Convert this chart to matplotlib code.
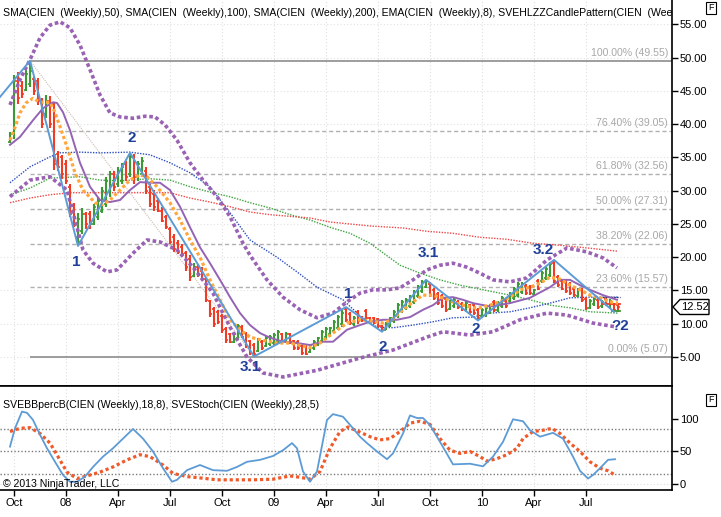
import numpy as np
import pandas as pd
import matplotlib
matplotlib.use("Agg")
import matplotlib.pyplot as plt
import matplotlib.transforms as mtransforms
from matplotlib.patches import Polygon

plt.rcParams['font.family'] = ['Liberation Sans', 'DejaVu Sans']

# ---------------- data ----------------
first_bar_date = "2007-09-28"
bar_open = [37.4, 38.5, 46.5, 45.8, 45.2, 46.0, 46.8, 46.5, 43.5, 41.5,
            43.5, 43.0, 35.5, 35.0, 34.0, 30.5, 27.8, 23.0, 24.0, 26.5,
            26.5, 25.0, 26.0, 27.0, 28.0, 30.0, 32.5, 31.0, 31.5, 34.0,
            32.5, 35.0, 32.0, 32.5, 33.0, 30.5, 29.5, 28.5, 27.0, 26.0,
            24.2, 23.0, 22.2, 21.6, 20.6, 19.8, 17.2, 18.6, 18.0, 16.8,
            13.4, 12.2, 11.7, 11.2, 9.2, 8.4, 7.3, 7.8, 9.5, 8.6,
            7.4, 6.8, 5.9, 7.3, 6.6, 6.9, 7.1, 7.4, 8.4, 7.5,
            8.4, 7.4, 7.3, 6.6, 6.6, 5.8, 6.4, 6.9, 7.4, 8.0,
            8.4, 8.9, 9.3, 9.9, 12.2, 11.5, 9.9, 11.7, 11.0, 11.9,
            10.8, 10.8, 10.7, 9.6, 9.1, 9.7, 10.4, 11.2, 11.9, 12.3,
            12.7, 13.3, 14.2, 14.9, 15.6, 16.0, 15.1, 14.5, 14.2, 13.7,
            12.2, 12.6, 13.2, 12.9, 12.0, 12.8, 12.8, 12.1, 11.1, 11.3,
            11.8, 13.2, 12.0, 12.7, 13.4, 13.4, 13.8, 14.3, 14.8, 15.7,
            15.5, 14.5, 16.5, 16.4, 16.9, 17.3, 19.2, 17.0, 16.5, 16.5,
            16.0, 15.2, 14.2, 15.1, 13.7, 12.4, 12.9, 13.5, 12.6, 13.7,
            12.5, 12.9, 12.8]
bar_high = [38.9, 47.4, 47.8, 46.5, 48.2, 49.55, 47.1, 47.0, 44.0, 44.4,
            44.2, 43.3, 36.0, 35.4, 34.6, 31.0, 28.2, 26.6, 27.4, 26.8,
            27.0, 28.0, 29.0, 30.6, 32.0, 33.0, 33.0, 33.5, 34.2, 34.5,
            35.7, 35.5, 34.5, 35.0, 33.5, 31.0, 30.1, 28.9, 27.5, 26.4,
            24.5, 23.5, 22.6, 22.0, 21.0, 20.3, 19.1, 19.0, 18.5, 17.0,
            13.6, 12.5, 12.0, 11.5, 9.5, 8.6, 8.8, 10.0, 9.8, 8.8,
            7.6, 7.1, 7.9, 7.5, 8.2, 8.3, 8.6, 9.1, 8.6, 8.8,
            8.6, 7.6, 7.6, 6.8, 6.8, 7.0, 7.6, 8.0, 9.0, 9.5,
            9.5, 10.6, 11.3, 12.0, 12.5, 11.8, 11.1, 12.0, 11.2, 12.2,
            11.0, 11.0, 10.9, 9.8, 10.3, 11.0, 12.0, 13.1, 13.6, 13.8,
            14.3, 15.0, 15.8, 16.6, 16.6, 16.3, 15.4, 14.8, 14.5, 14.0,
            13.5, 13.8, 13.5, 13.2, 13.4, 13.0, 13.1, 12.4, 12.4, 12.6,
            12.9, 13.5, 13.4, 14.2, 13.7, 14.8, 15.5, 16.3, 16.3, 16.0,
            15.8, 15.3, 16.8, 18.0, 18.5, 19.3, 19.6, 17.3, 16.8, 16.8,
            16.3, 15.5, 15.4, 15.4, 14.0, 13.7, 14.0, 13.8, 13.6, 14.0,
            13.7, 13.1, 13.0]
bar_low = [37.2, 37.8, 43.0, 44.0, 45.0, 45.6, 44.4, 42.9, 39.4, 40.9,
           39.5, 33.1, 33.0, 31.8, 31.0, 26.0, 24.5, 21.7, 23.5, 24.2,
           24.3, 24.8, 25.6, 26.6, 27.5, 29.0, 30.0, 30.5, 31.0, 31.5,
           32.0, 31.0, 31.5, 32.0, 29.5, 27.5, 27.0, 26.8, 25.3, 24.3,
           22.0, 20.8, 20.5, 20.0, 18.0, 16.5, 17.0, 17.0, 16.5, 13.3,
           11.0, 9.5, 10.0, 8.6, 7.1, 7.1, 7.1, 7.5, 7.8, 6.4,
           5.3, 5.07, 5.8, 6.0, 6.5, 6.6, 6.8, 7.1, 7.2, 7.3,
           7.0, 6.1, 6.0, 5.3, 5.3, 5.6, 6.1, 6.6, 7.1, 7.6,
           8.0, 8.6, 9.0, 9.5, 10.3, 9.8, 9.6, 10.0, 10.3, 10.5,
           10.2, 9.9, 9.4, 8.8, 9.0, 9.5, 10.1, 10.9, 11.6, 12.0,
           12.4, 13.0, 13.9, 14.6, 15.4, 14.0, 13.6, 12.8, 12.4, 11.8,
           12.0, 12.3, 12.2, 11.9, 11.8, 11.5, 11.3, 10.5, 10.9, 11.0,
           11.5, 11.7, 11.8, 12.4, 12.4, 13.1, 13.5, 14.0, 14.5, 14.3,
           14.3, 14.3, 15.0, 16.1, 16.6, 17.0, 16.1, 15.5, 15.0, 14.6,
           14.3, 14.0, 14.0, 13.3, 12.1, 12.2, 12.6, 12.2, 12.4, 12.7,
           12.3, 11.8, 11.8]
bar_close = [38.6, 46.5, 44.0, 44.5, 47.5, 48.0, 45.0, 43.5, 40.0, 43.5,
             40.0, 34.0, 33.5, 32.5, 31.5, 26.5, 25.0, 25.8, 26.5, 25.0,
             25.0, 27.5, 28.5, 30.0, 31.5, 32.5, 30.5, 33.0, 33.5, 32.0,
             35.0, 32.0, 34.0, 34.5, 30.0, 28.0, 27.5, 27.0, 25.5, 24.6,
             22.3, 21.2, 20.8, 20.5, 18.5, 17.0, 18.6, 17.3, 16.8, 13.6,
             11.4, 10.0, 10.3, 9.0, 7.5, 7.3, 8.5, 9.6, 8.0, 6.7,
             5.6, 5.4, 7.5, 6.3, 7.9, 8.0, 8.3, 8.8, 7.4, 8.5,
             7.2, 6.4, 6.3, 5.6, 5.5, 6.8, 7.3, 7.8, 8.7, 9.2,
             9.3, 10.2, 11.0, 11.6, 10.6, 10.1, 10.8, 10.4, 10.5, 10.8,
             10.4, 10.1, 9.7, 9.0, 10.1, 10.8, 11.7, 12.8, 13.3, 13.5,
             14.0, 14.7, 15.5, 16.3, 16.4, 14.3, 13.9, 13.1, 12.7, 12.1,
             13.2, 13.5, 12.5, 12.2, 13.1, 11.8, 11.6, 10.9, 12.1, 12.3,
             12.6, 12.0, 13.1, 13.9, 12.7, 14.5, 15.2, 16.0, 16.0, 14.6,
             14.6, 15.0, 15.3, 17.7, 18.2, 19.0, 16.5, 15.8, 15.3, 14.9,
             14.6, 14.3, 15.1, 13.6, 12.4, 13.4, 13.7, 12.5, 13.3, 13.0,
             13.4, 12.1, 12.52]

ema_w = [0, 1, 2.5, 4, 5.75, 7.5, 10, 11.25, 14.25, 16.25, 18.25, 21.25, 23, 25, 27.5, 30,
         32.5, 34.25, 36.75, 40, 42.5, 45, 47.5, 50, 52.5, 55, 57.5, 60, 62.5, 66.75, 70, 75,
         77.5, 80.75, 84.25, 87.5, 90.75, 93.25, 95.5, 98.25, 100.75, 103.25, 105.75, 108.25,
         110.75, 113.25, 115.75, 117.5, 120, 122.5, 125, 127.5, 130, 132.5, 135, 137.5, 140,
         142.5, 145, 147.5, 150, 152]
ema_v = [37.6, 39.1, 41.7, 43.2, 43.9, 43.3, 43.3, 41.8, 36.6, 32.7, 30.1, 28.2, 27.9, 28.6,
         30.1, 31.6, 32.4, 32.1, 30.6, 28.2, 25.6, 22.6, 20.0, 16.6, 13.6, 10.6, 9.1, 8.0, 7.6,
         7.1, 7.1, 6.4, 7.1, 8.6, 10.1, 10.6, 10.4, 10.1, 10.6, 12.1, 13.3, 14.3, 14.3, 13.9,
         13.3, 12.8, 12.4, 12.4, 12.8, 13.3, 14.0, 15.1, 15.5, 16.1, 17.0, 16.7, 15.8, 15.1,
         14.3, 13.9, 13.3, 13.1]

mid_w = [0, 2.5, 5.75, 8.25, 10.75, 11.75, 13.25, 15, 17.5, 20, 22.5, 25, 27.5, 30, 32.5, 35,
         37.5, 40, 42.5, 45, 47.5, 50, 52.5, 55, 57.5, 60, 62.5, 65, 68.25, 71.75, 75, 78.25,
         80.75, 84.25, 87.5, 90, 93.25, 96.75, 100, 103.25, 105.75, 108.25, 110.75, 113.25,
         115.75, 120, 125, 130, 135, 137.5, 140, 142.5, 145, 148.25, 151.75]
mid_v = [36.9, 38.1, 40.6, 42.4, 43.3, 43.2, 41.8, 39.1, 34.2, 30.6, 28.6, 28.3, 28.6, 30.1,
         31.3, 31.2, 31.2, 30.1, 27.6, 24.5, 21.5, 19.1, 16.6, 14.0, 11.6, 9.8, 8.6, 7.9, 7.3,
         7.1, 6.8, 7.3, 7.3, 9.1, 9.8, 10.3, 10.6, 10.6, 11.0, 12.1, 12.8, 13.9, 14.0, 13.6,
         13.1, 12.6, 13.1, 13.9, 15.5, 16.6, 16.6, 15.8, 15.1, 14.3, 13.6]

upper_w = [0, 2.5, 5, 7.5, 10, 12.5, 15, 17.5, 20, 22.5, 25, 27.5, 30.75, 33.75, 36.25, 38.75,
           41.75, 45, 48.25, 51.75, 55, 58.25, 60, 64.25, 68.25, 72.5, 76.75, 80.75, 84.25,
           87.5, 90.75, 94.25, 97.5, 100.75, 104.25, 107.5, 110.75, 114.25, 117.5, 120.75,
           125, 129.25, 134.25, 139.25, 144.25, 148.25, 151.75]
upper_v = [42.9, 46.7, 49.7, 53.0, 54.9, 55.4, 54.5, 51.9, 48.2, 44.4, 41.7, 41.1, 40.9, 41.2,
           41.1, 39.9, 37.6, 34.2, 31.6, 29.1, 26.1, 22.1, 20.3, 16.6, 14.0, 12.1, 10.9, 11.6,
           13.3, 14.6, 15.1, 15.1, 15.4, 16.6, 18.1, 18.8, 19.1, 18.5, 17.6, 16.6, 16.3, 16.9,
           19.6, 21.4, 20.8, 19.9, 18.4]

lower_w = [0, 5, 10, 14.25, 16.75, 18.25, 20.75, 24.25, 26.75, 30.75, 34.25, 37.5, 41.75,
           45.75, 50.75, 55, 59.25, 63.25, 68.25, 76.75, 87.5, 95.75, 104.25, 108.25, 115,
           120.75, 127.5, 134.25, 139.25, 145.75, 151.75]
lower_v = [29.1, 31.6, 32.1, 30.1, 24.5, 21.1, 19.1, 17.8, 18.1, 20.6, 22.6, 22.3, 21.1, 18.5,
           14.6, 9.5, 5.0, 2.6, 2.0, 3.0, 4.85, 6.05, 8.0, 8.8, 8.3, 8.8, 10.6, 11.6, 11.3,
           10.1, 9.5]

sma100_w = [0, 5, 10, 12.5, 17.5, 22.5, 30, 35, 40, 45, 50, 55, 60, 66.75, 71.75, 76.75, 83.25,
            87.5, 91.75, 95.75, 100.75, 105.75, 110.75, 115.75, 120, 125, 130, 135, 140, 145, 152]
sma100_v = [31.2, 33.6, 35.1, 35.7, 35.8, 35.7, 35.8, 35.4, 34.2, 32.7, 30.6, 26.7, 22.6, 20.0,
            17.8, 15.5, 13.6, 11.2, 9.5, 9.4, 9.8, 10.3, 10.9, 11.0, 11.6, 11.8, 12.4, 13.1,
            13.9, 14.0, 14.0]

sma50_w = [0, 5, 10, 17.5, 22.5, 27.5, 35, 40, 45, 50, 55, 60, 65, 70, 75, 80, 85, 90, 97.5,
           102.5, 107.5, 112.5, 117.5, 125, 130, 135, 140, 145, 152]
sma50_v = [29.4, 30.4, 31.9, 32.1, 31.6, 31.5, 31.8, 31.6, 30.6, 29.8, 29.1, 28.2, 27.4, 26.4,
           25.6, 24.5, 23.6, 22.1, 18.8, 17.6, 16.6, 15.8, 15.2, 14.3, 13.6, 12.8, 12.4, 11.8,
           11.6]

sma200_w = [0, 5, 10, 15, 40, 45, 50, 55, 60, 65, 75, 80, 90, 98.25, 104.25, 110.75, 117.5,
            124.25, 130.75, 137.5, 144.25, 152]
sma200_v = [28.2, 28.9, 29.4, 29.7, 29.7, 28.9, 28.3, 27.6, 26.8, 26.4, 25.9, 25.3, 24.7, 24.4,
            23.9, 23.6, 23.0, 22.7, 22.1, 21.8, 21.4, 20.9]

zigzag_w = [-2.5, 5, 17, 30, 61, 84, 93, 104, 117, 136, 151]
zigzag_v = [44.1, 49.55, 21.7, 35.7, 5.07, 12.5, 8.8, 16.6, 10.5, 19.6, 11.8]

# candle-pattern marks at the right end
pattern_red_w = [148, 152.5]
pattern_red_v = 12.9
pattern_green_w = [150.5, 152.5]
pattern_green_v = 11.9
pattern_dark_w = [147.5, 152.5]
pattern_dark_v = 14.07

fib_pct = [100.0, 76.4, 61.8, 50.0, 38.2, 23.6, 0.0]
fib_val = [49.55, 39.05, 32.56, 27.31, 22.06, 15.57, 5.07]
fib_start_w = 5
fib_trend_w = [5, 61]
fib_trend_v = [49.55, 5.07]

wave_text = ["1", "2", "3.1", "1", "2", "3.1", "2", "3.2", "?2"]
wave_w = [16.5, 30.5, 60, 84.5, 93.25, 104.5, 116.5, 133.25, 152.5]
wave_v = [19.3, 37.9, 3.5, 14.5, 6.5, 20.6, 9.2, 21.1, 9.66]

percb_w = [0, 1.25, 3, 4.25, 5.75, 7.5, 9.25, 11.25, 13.25, 15, 16.75, 18.75, 20.75, 23.25,
           25.75, 28.25, 30.75, 33.25, 35.75, 38.25, 40.5, 41.75, 44.25, 47.5, 50.75, 54.25,
           56.75, 59.25, 62.5, 65.75, 68.25, 70.5, 71.75, 73.25, 75, 76.75, 79.25, 80.75, 83.25,
           85.75, 87.5, 89.25, 91.75, 94.25, 95.75, 98.25, 100, 101.75, 103.25, 105, 107.5,
           110.75, 115, 118.25, 120.75, 123.25, 125.75, 128.25, 130, 132.5, 135.75, 138.25,
           140.75, 142.5, 144.5, 145.75, 147.5, 149.5, 151.25]
percb_v = [57.5, 86, 112, 110, 99, 76, 55, 34, 13.5, 3, 3, 11, 26, 42, 55, 70, 85, 70, 50, 24,
           3, 6, 21, 29, 21, 20, 26, 34, 37, 43, 52, 63, 55, 19, 3, 19, 99, 108, 104, 86, 73,
           63, 50, 38, 47, 78, 106, 102, 102, 91, 65, 30, 31, 27, 42, 65, 100, 97, 83, 73, 79,
           70, 42, 20, 8, 13.5, 24, 37, 38]

stoch_w = [0, 2.5, 5, 7.5, 10, 12, 14.25, 16.75, 19.25, 22.5, 25.75, 29.25, 32.5, 35, 38.25,
           40.75, 44.25, 47.5, 51.75, 55.75, 60.75, 65.75, 70, 72.5, 75, 77.5, 80, 82.5, 84.5,
           87.5, 90, 92.5, 95, 97.5, 100, 102.5, 105, 107.5, 110, 112.5, 115, 117.5, 119.25,
           121.75, 124.25, 126.75, 128.25, 130.75, 133.25, 135.5, 137.5, 140, 142.5, 145,
           147.5, 149.5, 151.25]
stoch_v = [81, 86, 87, 78, 63, 42, 18, 8, 12, 18, 26, 37, 45, 42, 29, 16, 11, 9, 6, 6, 6, 7,
           12, 10, 7, 19, 55, 81, 88, 80, 73, 68, 70, 81, 94, 97, 92, 70, 52, 47, 50, 42, 35,
           39, 45, 55, 70, 81, 83, 86, 78, 63, 50, 34, 24, 20, 13.5]
osc_levels = [85, 50, 15]

tick_labels = ["Oct", "08", "Apr", "Jul", "Oct", "09", "Apr", "Jul", "Oct", "10", "Apr", "Jul"]
price_ticks = [5, 10, 15, 20, 25, 30, 35, 40, 45, 50, 55]
osc_ticks = [0, 50, 100]
last_price = 12.52

main_title = ("SMA(CIEN  (Weekly),50), SMA(CIEN  (Weekly),100), SMA(CIEN  (Weekly),200), "
              "EMA(CIEN  (Weekly),8), SVEHLZZCandlePattern(CIEN  (Weekly))")
osc_title = "SVEBBpercB(CIEN (Weekly),18,8), SVEStoch(CIEN (Weekly),28,5)"
copyright_text = "\u00a9 2013 NinjaTrader, LLC"

# ---------------- figure ----------------
W, H = 721, 517
fig = plt.figure(figsize=(W / 100, H / 100), dpi=100)
fig.patch.set_facecolor("white")
ax = fig.add_axes([0, 1 - 386 / H, 672 / W, 386 / H])
ax2 = fig.add_axes([0, 1 - 490 / H, 672 / W, 104 / H], sharex=ax)

n = len(bar_close)
xb = np.arange(n)
dates = pd.date_range(first_bar_date, periods=n, freq="7D")
tick_pos = [i for i in range(1, n)
            if dates[i].month != dates[i - 1].month and dates[i].month in (1, 4, 7, 10)]

XMIN, XMAX = -2.5, 165.5
ax.set_xlim(XMIN, XMAX)
ax.set_ylim(0.64, 58.68)
ax2.set_ylim(-9.8, 151.7)

# grids
for p in tick_pos:
    for a in (ax, ax2):
        a.axvline(p, color="#dedede", lw=0.8, ls=(0, (1, 2)), zorder=0)
for v in price_ticks:
    ax.axhline(v, color="#e2e2e2", lw=0.8, ls=(0, (1, 2)), zorder=0)

# fibonacci levels
for pct, val in zip(fib_pct, fib_val):
    if pct in (0.0, 100.0):
        ax.hlines(val, fib_start_w, XMAX, color="#8c8c8c", lw=1.2, zorder=1)
    else:
        ax.hlines(val, fib_start_w, XMAX, color="#b0b0b0", lw=1.0, ls=(0, (3, 2)), zorder=1)
    ax.text(XMAX - 1.0, val + 0.35, f"{pct:.2f}% ({val:.2f})", ha="right", va="bottom",
            fontsize=7.6, color="#a8a8a8", zorder=2)
ax.plot(fib_trend_w, fib_trend_v, color="#cbbfb3", lw=0.8, ls=(0, (1, 1)), zorder=1)

# moving averages
ax.plot(sma50_w, sma50_v, color="#3fa33f", lw=1.0, ls=(0, (1, 1)), zorder=2)
ax.plot(sma100_w, sma100_v, color="#2e4fc0", lw=1.0, ls=(0, (1, 1)), zorder=2)
ax.plot(sma200_w, sma200_v, color="#f04848", lw=1.0, ls=(0, (1, 1)), zorder=2)

# bars
o = np.array(bar_open); h = np.array(bar_high); l = np.array(bar_low); c = np.array(bar_close)
cols = np.where(c >= o, "#3b9a33", "#f23b24")
ax.vlines(xb, l, h, colors=cols, lw=1.5, zorder=3)
ax.hlines(o, xb - 0.6, xb, colors=cols, lw=1.2, zorder=3)
ax.hlines(c, xb, xb + 0.6, colors=cols, lw=1.2, zorder=3)

# candle pattern marks
ax.plot(pattern_dark_w, [pattern_dark_v] * 2, color="#1a1a50", lw=1.0, ls=(0, (1, 1)), zorder=4)
ax.plot(pattern_red_w, [pattern_red_v] * 2, color="#f23b24", lw=1.3, zorder=4)
ax.plot(pattern_green_w, [pattern_green_v] * 2, color="#3b9a33", lw=1.3, zorder=4)

# purple lines
ax.plot(mid_w, mid_v, color="#9463b4", lw=1.4, zorder=4)
ax.plot(upper_w, upper_v, color="#9a62b4", lw=2.6, ls=(0, (1, 0.75)), zorder=4)
ax.plot(lower_w, lower_v, color="#9a62b4", lw=2.6, ls=(0, (1, 0.75)), zorder=4)

# EMA
ax.plot(ema_w, ema_v, color="#ffa63c", lw=2.3, ls=(0, (1, 0.8)), zorder=5)

# zigzag
ax.plot(zigzag_w, zigzag_v, color="#5d9bd6", lw=1.4, zorder=6)

# wave labels
for t, w, v in zip(wave_text, wave_w, wave_v):
    ax.text(w, v, t, ha="center", va="center", fontsize=11, fontweight="bold",
            color="#1f4099", zorder=7)

# axes styling main
ax.set_xticks(tick_pos)
ax.tick_params(axis="x", bottom=False, labelbottom=False)
ax.yaxis.tick_right()
ax.set_yticks(price_ticks, [f"{v:.2f}" for v in price_ticks])
ax.tick_params(axis="y", direction="out", length=4, width=1, labelsize=8, pad=1.5)
for s in ("top", "left"):
    ax.spines[s].set_visible(False)
ax.spines["right"].set_linewidth(1.2)
ax.spines["bottom"].set_linewidth(1.2)

t1 = ax.text(0.004, 1 - 13 / 386, main_title, transform=ax.transAxes, ha="left",
             va="center", fontsize=7.55, color="black", zorder=8)
t1.set_clip_on(True)
t1.set_clip_box(ax.bbox)

# last price marker
tr = mtransforms.blended_transform_factory(ax.transAxes, ax.transData)
dy = 7.5 / 6.65
x0 = 1.0 + 1 / 672
poly = Polygon([(x0, last_price), (x0 + 7 / 672, last_price + dy), (x0 + 36 / 672, last_price + dy),
                (x0 + 36 / 672, last_price - dy), (x0 + 7 / 672, last_price - dy)],
               closed=True, transform=tr, facecolor="white", edgecolor="black", lw=1.0,
               clip_on=False, zorder=10)
ax.add_patch(poly)
ax.text(x0 + 22 / 672, last_price, f"{last_price:.2f}", transform=tr, ha="center",
        va="center", fontsize=8, clip_on=False, zorder=11)

# ---------------- oscillator panel ----------------
for lv in osc_levels:
    ax2.axhline(lv, color="#7a7a7a", lw=1.0, ls=(0, (1, 1.5)), zorder=1)
ax2.axhline(0, color="#dddddd", lw=0.8, ls=(0, (1, 2)), zorder=1)
ax2.plot(stoch_w, stoch_v, color="#f05a2a", lw=2.3, ls=(0, (1, 0.9)), zorder=3)
ax2.plot(percb_w, percb_v, color="#5d9bd6", lw=1.3, zorder=4)

ax2.set_xticks(tick_pos, tick_labels)
ax2.tick_params(axis="x", direction="out", length=4, width=1, labelsize=8, pad=2)
ax2.yaxis.tick_right()
ax2.set_yticks(osc_ticks, [str(v) for v in osc_ticks])
ax2.tick_params(axis="y", direction="out", length=4, width=1, labelsize=8, pad=1.5)
ax2.spines["left"].set_visible(False)
for s in ("top", "right", "bottom"):
    ax2.spines[s].set_linewidth(1.2)

ax2.text(0.004, 1 - 19 / 104, osc_title, transform=ax2.transAxes, ha="left", va="center",
         fontsize=7.6, zorder=8)
ax2.text(0.004, 6 / 104, copyright_text, transform=ax2.transAxes, ha="left", va="center",
         fontsize=7.6, zorder=8)

# "F" boxes
for yy in (8, 400):
    fig.text(711 / W, 1 - yy / H, "F", ha="center", va="center", fontsize=6.5,
             bbox=dict(boxstyle="square,pad=0.2", fc="white", ec="black", lw=0.8))

fig.savefig("out.png", dpi=100)
